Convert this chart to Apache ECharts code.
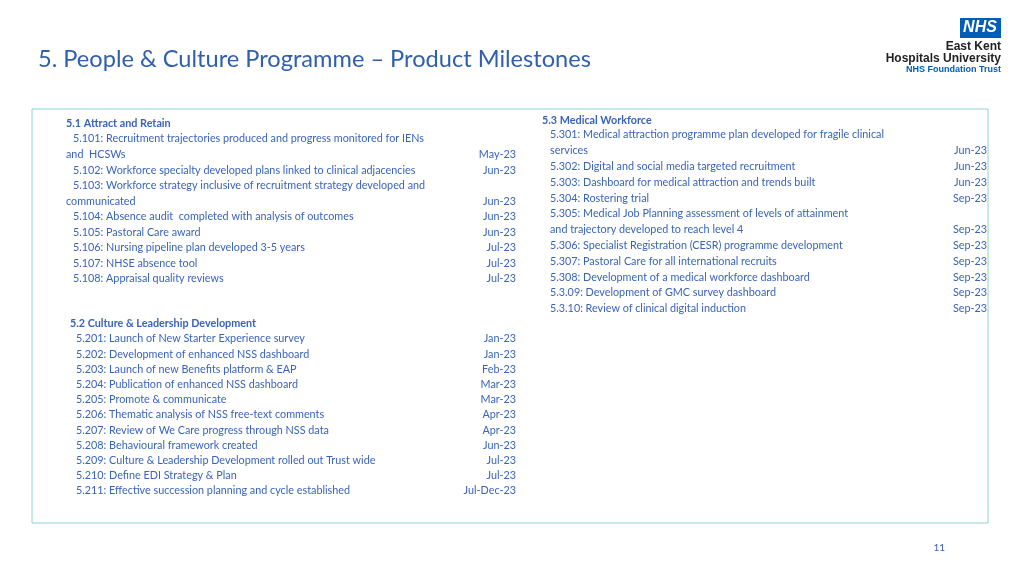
<!DOCTYPE html>
<html><head><meta charset="utf-8">
<script src="https://cdn.jsdelivr.net/npm/echarts@6/dist/echarts.min.js"></script>
<style>html,body{margin:0;padding:0;background:#fff}#c{width:1024px;height:575px}</style>
</head><body><div id="c"></div>
<script>
const titleText = "5. People & Culture Programme – Product Milestones";
const sec1Title = "5.1 Attract and Retain";
const sec1Lines = [
  ["5.101: Recruitment trajectories produced and progress monitored for IENs", ""],
  ["and  HCSWs", "May-23", true],
  ["5.102: Workforce specialty developed plans linked to clinical adjacencies", "Jun-23"],
  ["5.103: Workforce strategy inclusive of recruitment strategy developed and", ""],
  ["communicated", "Jun-23", true],
  ["5.104: Absence audit  completed with analysis of outcomes", "Jun-23"],
  ["5.105: Pastoral Care award", "Jun-23"],
  ["5.106: Nursing pipeline plan developed 3-5 years", "Jul-23"],
  ["5.107: NHSE absence tool", "Jul-23"],
  ["5.108: Appraisal quality reviews", "Jul-23"]
];
const sec2Title = "5.2 Culture & Leadership Development";
const sec2Lines = [
  ["5.201: Launch of New Starter Experience survey", "Jan-23"],
  ["5.202: Development of enhanced NSS dashboard", "Jan-23"],
  ["5.203: Launch of new Benefits platform & EAP", "Feb-23"],
  ["5.204: Publication of enhanced NSS dashboard", "Mar-23"],
  ["5.205: Promote & communicate", "Mar-23"],
  ["5.206: Thematic analysis of NSS free-text comments", "Apr-23"],
  ["5.207: Review of We Care progress through NSS data", "Apr-23"],
  ["5.208: Behavioural framework created", "Jun-23"],
  ["5.209: Culture & Leadership Development rolled out Trust wide", "Jul-23"],
  ["5.210: Define EDI Strategy & Plan", "Jul-23"],
  ["5.211: Effective succession planning and cycle established", "Jul-Dec-23"]
];
const sec3Title = "5.3 Medical Workforce";
const sec3Lines = [
  ["5.301: Medical attraction programme plan developed for fragile clinical", ""],
  ["services", "Jun-23"],
  ["5.302: Digital and social media targeted recruitment", "Jun-23"],
  ["5.303: Dashboard for medical attraction and trends built", "Jun-23"],
  ["5.304: Rostering trial", "Sep-23"],
  ["5.305: Medical Job Planning assessment of levels of attainment", ""],
  ["and trajectory developed to reach level 4", "Sep-23"],
  ["5.306: Specialist Registration (CESR) programme development", "Sep-23"],
  ["5.307: Pastoral Care for all international recruits", "Sep-23"],
  ["5.308: Development of a medical workforce dashboard", "Sep-23"],
  ["5.3.09: Development of GMC survey dashboard", "Sep-23"],
  ["5.3.10: Review of clinical digital induction", "Sep-23"]
];
const pageNo = "11";

const BLUE = "#3a64b8", FONT = "Lato";
const g = [];
function txt(x, y, t, opt) {
  g.push({type:'text', x, y, style:Object.assign({text:t, fill:BLUE, font:'10.8px '+FONT, textVerticalAlign:'middle'}, opt||{})});
}
function section(title, tx, ty, lines, lx, outX, dx, y0, step) {
  txt(tx, ty, title, {font:'bold 10.8px '+FONT});
  lines.forEach((l, i) => {
    const y = y0 + i*step;
    txt(l[2] ? outX : lx, y, l[0]);
    if (l[1]) txt(dx, y, l[1], {textAlign:'right'});
  });
}
g.push({type:'rect', shape:{x:32, y:109, width:956, height:414}, style:{fill:'none', stroke:'#8fd0da', lineWidth:1}});
txt(38, 59, titleText, {font:'23.6px '+FONT, fill:'#2f5fae'});
section(sec1Title, 66, 124, sec1Lines, 73, 66, 516, 139, 15.55);
section(sec2Title, 70, 324, sec2Lines, 76, 76, 516, 339, 15.2);
section(sec3Title, 542, 121, sec3Lines, 550, 550, 987, 135, 15.8);
txt(945, 548, pageNo, {textAlign:'right', font:'10px '+FONT});
g.push({type:'rect', shape:{x:960, y:18, width:41, height:20}, style:{fill:'#005eb8'}});
txt(980, 28, 'NHS', {fill:'#fff', font:'italic bold 16px Arial', textAlign:'center'});
txt(1001, 47, 'East Kent', {fill:'#222', font:'bold 12px Arial', textAlign:'right'});
txt(1001, 59, 'Hospitals University', {fill:'#222', font:'bold 12px Arial', textAlign:'right'});
txt(1001, 70, 'NHS Foundation Trust', {fill:'#005eb8', font:'bold 9px Arial', textAlign:'right'});

const chart = echarts.init(document.getElementById('c'));
chart.setOption({animation:false, graphic:{elements:g}});
</script></body></html>
